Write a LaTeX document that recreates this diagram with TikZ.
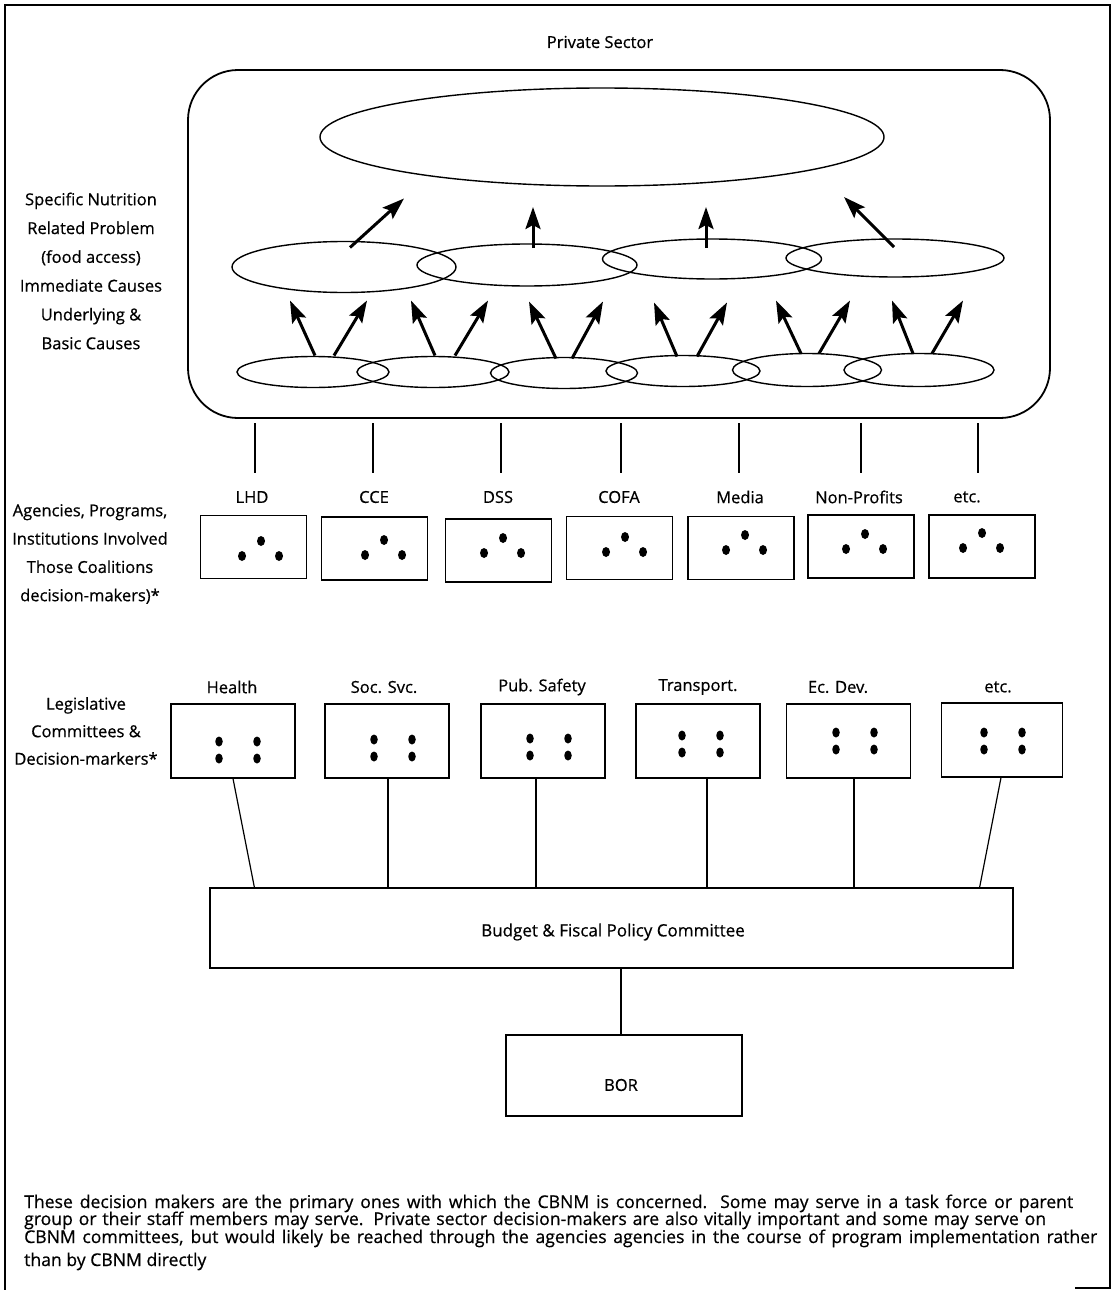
\documentclass[tikz,border=0pt]{standalone}
\usepackage{fontspec}
\setmainfont{Open Sans}[FakeBold=0.6]
\usetikzlibrary{arrows.meta,shapes.geometric}
\begin{document}
\begin{tikzpicture}[x=1pt,y=-1pt,
  txt/.style={font=\fontsize{16.5}{20}\selectfont, inner sep=0pt},
  foot/.style={font=\fontsize{17.6}{20}\selectfont, inner sep=0pt, anchor=base west},
  ell/.style={draw, ellipse, line width=1.4pt, inner sep=0pt, outer sep=0pt},
  uparrow/.style={line width=3pt, -{Stealth[length=22pt,width=15pt,inset=4pt]}},
  abox/.style={draw, line width=1.2pt, inner sep=0pt, minimum width=106pt, minimum height=63pt},
  lbox/.style={draw, line width=1.2pt, inner sep=0pt, minimum width=124pt, minimum height=74pt},
  blob/.style={fill, ellipse, inner sep=0pt, minimum width=8pt, minimum height=10pt},
  conn/.style={line width=1.2pt},
]
\useasboundingbox (0,0) rectangle (1112,1290);
% frame
\draw[line width=1.2pt] (5,1290) -- (5,5) -- (1110,5) -- (1110,1288) -- (1075,1288);

% private sector
\node[txt] (ps) at (600,42) {Private Sector};
\node[draw, line width=1.8pt, rounded corners=50pt, minimum width=862pt, minimum height=348pt, inner sep=0pt] (sector) at (619,244) {};

% problem ellipse
\node[ell, minimum width=564pt, minimum height=98pt] (prob) at (602,137) {};

% immediate causes
\node[ell, minimum width=224pt, minimum height=51pt] (m1) at (344,267) {};
\node[ell, minimum width=220pt, minimum height=42pt] (m2) at (527,265) {};
\node[ell, minimum width=219pt, minimum height=40pt] (m3) at (712,259) {};
\node[ell, minimum width=218pt, minimum height=38pt] (m4) at (895,258) {};

% underlying causes
\node[ell, minimum width=152pt, minimum height=31pt] (b1) at (313,372) {};
\node[ell, minimum width=152pt, minimum height=31pt] (b2) at (433,372) {};
\node[ell, minimum width=147pt, minimum height=31pt] (b3) at (564,373) {};
\node[ell, minimum width=154pt, minimum height=31pt] (b4) at (683,371) {};
\node[ell, minimum width=149pt, minimum height=33pt] (b5) at (807,370) {};
\node[ell, minimum width=150pt, minimum height=33pt] (b6) at (919,370) {};

% arrows bottom -> middle
\draw[uparrow] ([xshift=2pt,yshift=1pt]b1.north) -- ++(-25,-55);
\draw[uparrow] ([xshift=21pt,yshift=1pt]b1.north) -- ++(33,-55);
\draw[uparrow] ([xshift=2pt,yshift=1pt]b2.north) -- ++(-24,-55);
\draw[uparrow] ([xshift=22pt,yshift=1pt]b2.north) -- ++(33,-55);
\draw[uparrow] ([xshift=-8pt,yshift=-1pt]b3.north) -- ++(-27,-57);
\draw[uparrow] ([xshift=8pt,yshift=-1pt]b3.north) -- ++(31,-57);
\draw[uparrow] ([xshift=-6pt,yshift=-1pt]b4.north) -- ++(-23,-54);
\draw[uparrow] ([xshift=14pt,yshift=-1pt]b4.north) -- ++(30,-54);
\draw[uparrow] ([xshift=-6pt]b5.north) -- ++(-25,-53);
\draw[uparrow] ([xshift=12pt]b5.north) -- ++(31,-53);
\draw[uparrow] ([xshift=-6pt]b6.north) -- ++(-21,-53);
\draw[uparrow] ([xshift=13pt]b6.north) -- ++(31,-53);

% arrows middle -> problem
\draw[uparrow] ([xshift=6pt,yshift=-6pt]m1.north) -- ++(54,-49);
\draw[uparrow] ([xshift=6pt,yshift=-4pt]m2.north) -- ++(0,-41);
\draw[uparrow] ([xshift=-6pt,yshift=-9pt]m3.north) -- ++(0,-41);
\draw[uparrow] ([xshift=-1pt,yshift=-8pt]m4.north) -- ++(-50,-50);

% side labels
\node[txt, align=center, font=\fontsize{16.5}{28.8}\selectfont] (side1) at (91,271)
  {Specific Nutrition\\Related Problem\\(food access)\\Immediate Causes\\Underlying \&\\Basic Causes};
\node[txt, align=center, font=\fontsize{16.5}{28.3}\selectfont] (side2) at (90,554)
  {Agencies, Programs,\\Institutions Involved\\Those Coalitions\\decision-makers)*};
\node[txt, align=center, font=\fontsize{16.5}{27.5}\selectfont] (side3) at (86,731)
  {Legislative\\Committees \&\\Decision-markers*};

% vertical ticks below sector
\foreach \x [count=\i] in {255,373,501,621,739,861,978} {
  \coordinate (tt\i) at (\x,423);
  \coordinate (tb\i) at (\x,473);
  \draw[conn] (tt\i) -- (tb\i);
}

% agency labels
\node[txt] (la1) at (252,497) {LHD};
\node[txt] (la2) at (374,497) {CCE};
\node[txt] (la3) at (498,497) {DSS};
\node[txt] (la4) at (619,497) {COFA};
\node[txt] (la5) at (740,497) {Media};
\node[txt] (la6) at (859,497) {Non-Profits};
\node[txt] (la7) at (967,497) {etc.};

% agency boxes
\node[abox] (a1) at (253.5,547) {};
\node[abox] (a2) at (374.5,548.5) {};
\node[abox] (a3) at (498.5,550.5) {};
\node[abox] (a4) at (619.5,548) {};
\node[abox] (a5) at (741,548) {};
\node[abox] (a6) at (861,546.5) {};
\node[abox] (a7) at (982,546.5) {};
\foreach \gx/\gy [count=\i] in {261/541,384/540,503/538,625/537,745/535,865/534,982/533} {
  \node[blob] (a\i t) at (\gx,\gy) {};
  \node[blob] (a\i l) at (\gx-19,\gy+15) {};
  \node[blob] (a\i r) at (\gx+18,\gy+15) {};
}

% legislative labels
\node[txt] (ll1) at (232,687) {Health};
\node[txt] (ll2) at (384,687) {Soc. Svc.};
\node[txt] (ll3) at (542,687) {Pub. Safety};
\node[txt] (ll4) at (698,687) {Transport.};
\node[txt] (ll5) at (838,687) {Ec. Dev.};
\node[txt] (ll6) at (998,687) {etc.};

% legislative boxes
\node[lbox] (l1) at (233,741) {};
\node[lbox] (l2) at (387,741) {};
\node[lbox] (l3) at (543,741) {};
\node[lbox] (l4) at (698,741) {};
\node[lbox] (l5) at (848.5,741) {};
\node[lbox, minimum width=121pt] (l6) at (1002,740) {};
\foreach \gx/\gy [count=\i] in {238/750,393/748,549/747,701/744,855/741,1003/741} {
  \node[blob, minimum width=7.5pt, minimum height=10pt] (d\i a) at (\gx-19,\gy-8.5) {};
  \node[blob, minimum width=7.5pt, minimum height=10pt] (d\i b) at (\gx+19,\gy-8.5) {};
  \node[blob, minimum width=7.5pt, minimum height=10pt] (d\i c) at (\gx-19,\gy+8.5) {};
  \node[blob, minimum width=7.5pt, minimum height=10pt] (d\i d) at (\gx+19,\gy+8.5) {};
}

% budget committee
\node[draw, line width=1.2pt, inner sep=0pt, minimum width=803pt, minimum height=80pt] (budget) at (611.5,928) {};
\node[txt, font=\fontsize{17}{20}\selectfont] (budgettxt) at (613,932) {Budget \& Fiscal Policy Committee};

\draw[conn] (l1.south) -- ([xshift=45pt]budget.north west);
\draw[conn] ([xshift=1pt]l2.south) -- ([xshift=1pt]l2.south |- budget.north);
\draw[conn] ([xshift=-7pt]l3.south) -- ([xshift=-7pt]l3.south |- budget.north);
\draw[conn] ([xshift=9pt]l4.south) -- ([xshift=9pt]l4.south |- budget.north);
\draw[conn] ([xshift=5.5pt]l5.south) -- ([xshift=5.5pt]l5.south |- budget.north);
\draw[conn] ([xshift=-1pt]l6.south) -- ([xshift=-34pt]budget.north east);

% BOR
\node[draw, line width=1.2pt, inner sep=0pt, minimum width=236pt, minimum height=81pt] (bor) at (624,1075.5) {};
\node[txt] (bortxt) at (621,1085) {BOR};
\draw[conn] ([xshift=9.5pt]budget.south) -- ([xshift=9.5pt]budget.south |- bor.north);

% footnote
\node[foot] (f1) at (24,1208) {\makebox[1049pt][s]{These decision makers are the primary ones with which the CBNM is concerned. Some may serve in a task force or parent}};
\node[foot] (f2) at (24,1225) {\makebox[1022pt][s]{group or their staff members may serve. Private sector decision-makers are also vitally important and some may serve on}};
\node[foot] (f3) at (24,1243) {\makebox[1073pt][s]{CBNM committees, but would likely be reached through the agencies agencies in the course of program implementation rather}};
\node[foot] (f4) at (24,1266) {than by CBNM directly};
\end{tikzpicture}
\end{document}
